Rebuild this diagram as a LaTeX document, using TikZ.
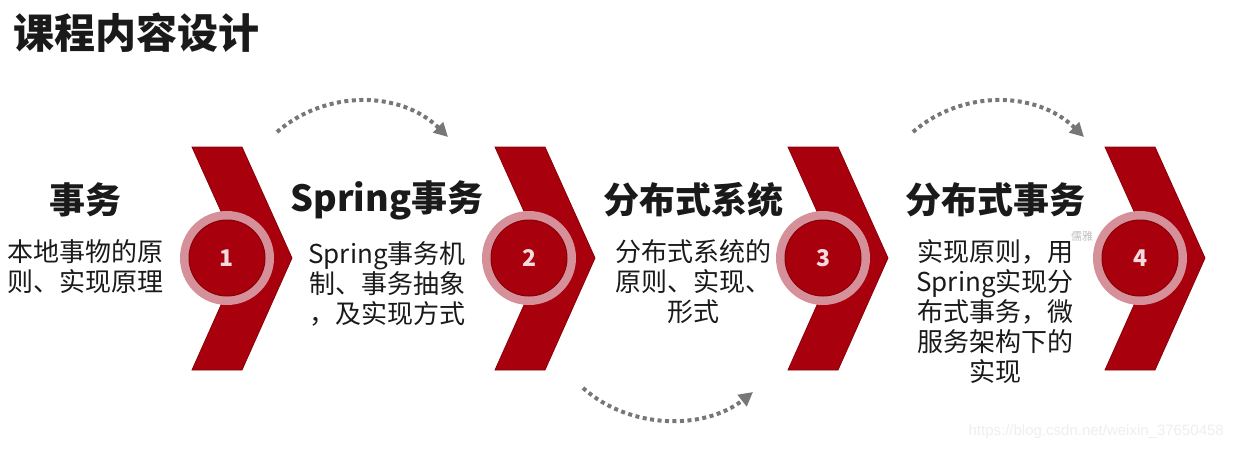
\documentclass[tikz,border=0pt]{standalone}
\usepackage{fontspec}
\setmainfont{Noto Sans CJK SC}
\newfontfamily\urlfont{Liberation Sans}
\usetikzlibrary{arrows.meta,positioning}
\definecolor{chevred}{HTML}{A8000C}
\definecolor{chevedge}{HTML}{8A0008}
\definecolor{ringpink}{HTML}{D6909A}
\definecolor{numpink}{HTML}{F6DADE}
\definecolor{arcgray}{HTML}{777777}
\definecolor{titleblack}{HTML}{1A1A1A}

\begin{document}
\begin{tikzpicture}[
    x=1pt, y=-1pt,
    chev/.style={fill=chevred, draw=chevedge, line width=0.8pt},
    ring/.style={circle, fill=ringpink, minimum size=94pt, inner sep=0pt},
    num/.style={circle, fill=chevred, draw=chevedge, line width=1pt, minimum size=76pt, inner sep=0pt, text=numpink, font=\fontsize{23}{23}\selectfont\bfseries},
    head/.style={font=\fontsize{36}{40}\selectfont\bfseries, text=titleblack, inner sep=0pt},
    body/.style={font=\fontsize{26}{30}\selectfont, text=titleblack, align=center, inner sep=0pt},
    arc/.style={arcgray, line width=4pt, dash pattern=on 4pt off 3.5pt, -{Triangle[length=14pt,width=14pt]}}
  ]
    \useasboundingbox (0,0) rectangle (1234,450);

    % page title
    \node[font=\fontsize{41}{44}\selectfont\bfseries, text=titleblack, inner sep=0pt, anchor=west] (title) at (13,33) {课程内容设计};

    % chevrons
    \draw[chev] (192,147) -- (242,147) -- (292,258) -- (242,370) -- (192,370) -- (242,258) -- cycle;
    \draw[chev] (495,147) -- (545,147) -- (595,258) -- (545,370) -- (495,370) -- (545,258) -- cycle;
    \draw[chev] (788,147) -- (838,147) -- (888,258) -- (838,370) -- (788,370) -- (838,258) -- cycle;
    \draw[chev] (1105,147) -- (1155,147) -- (1205,258) -- (1155,370) -- (1105,370) -- (1155,258) -- cycle;

    % numbered circles
    \node[ring] (ring1) at (227,258) {};
    \node[num] (num1) at (ring1) {1};
    \node[ring] (ring2) at (529,258) {};
    \node[num] (num2) at (ring2) {2};
    \node[ring] (ring3) at (823,258) {};
    \node[num] (num3) at (ring3) {3};
    \node[ring] (ring4) at (1140,258) {};
    \node[num] (num4) at (ring4) {4};

    % stage texts
    \node[head] (head1) at (85,200) {事务};
    \node[body, below=22pt of head1] (text1) {本地事物的原\\则、实现原理};
    \node[head] (head2) at (387,200) {Spring事务};
    \node[body, below=22pt of head2] (text2) {Spring事务机\\制、事务抽象\\，及实现方式};
    \node[head] (head3) at (693,200) {分布式系统};
    \node[body, below=22pt of head3] (text3) {分布式系统的\\原则、实现、\\形式};
    \node[head] (head4) at (995,200) {分布式事务};
    \node[body, below=22pt of head4] (text4) {实现原则，用\\Spring实现分\\布式事务，微\\服务架构下的\\实现};

    % dotted arcs
    \coordinate (a1s) at (277,132);
    \coordinate (a1e) at (448,137);
    \coordinate (a2s) at (583,388);
    \coordinate (a2e) at (753,392);
    \coordinate (a3s) at (913,132);
    \coordinate (a3e) at (1084,137);
    \draw[arc] (a1s) .. controls (325,90) and (400,90) .. (a1e);
    \draw[arc] (a2s) .. controls (630,430) and (705,430) .. (a2e);
    \draw[arc] (a3s) .. controls (961,90) and (1036,90) .. (a3e);

    % watermarks
    \node[font=\fontsize{11}{11}\selectfont, text=gray!50, inner sep=0pt] (mark) at (1082,236) {儒雅};
    \node[font=\urlfont\fontsize{15}{15}\selectfont, text=gray!13, inner sep=0pt, anchor=east] (url) at (1224,432) {https://blog.csdn.net/weixin\_37650458};
  \end{tikzpicture}
\end{document}
